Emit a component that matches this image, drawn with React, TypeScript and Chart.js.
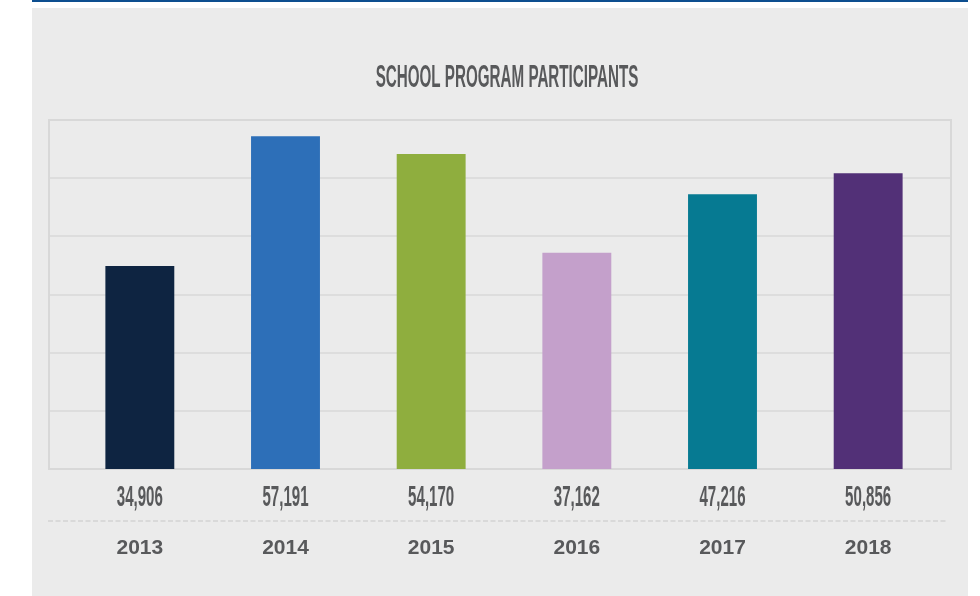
import React, { useEffect, useRef } from "react";
import { Chart, registerables } from "chart.js";

Chart.register(...registerables);

const years = ["2013", "2014", "2015", "2016", "2017", "2018"];
const participants = [34906, 57191, 54170, 37162, 47216, 50856];
const barColors = ["#0e2441", "#2d6fb8", "#8fae3e", "#c4a0cb", "#067a92", "#523077"];
const gridValues = [0, 10000, 20000, 30000, 40000, 50000, 60000];
const title = "SCHOOL PROGRAM PARTICIPANTS";

const fmt = (v: number) => v.toLocaleString("en-US");

export default function App() {
  const ref = useRef<HTMLCanvasElement | null>(null);

  useEffect(() => {
    document.body.style.margin = "0";
    const canvas = ref.current!;
    const decor = {
      id: "decor",
      beforeDraw(chart: any) {
        const ctx = chart.ctx;
        ctx.save();
        ctx.fillStyle = "#ffffff";
        ctx.fillRect(0, 0, chart.width, chart.height);
        ctx.fillStyle = "#0d4e8f";
        ctx.fillRect(32, 0, 936, 2);
        ctx.fillStyle = "#ebebeb";
        ctx.fillRect(32, 8, 936, chart.height - 8);
        // title
        ctx.fillStyle = "#58595b";
        ctx.font = "bold 31px 'Liberation Sans', Arial, sans-serif";
        ctx.textAlign = "center";
        ctx.textBaseline = "middle";
        ctx.translate(507, 78);
        ctx.scale(0.49, 1);
        ctx.fillText(title, 0, 0);
        ctx.restore();
      },
      beforeDatasetsDraw(chart: any) {
        const ctx = chart.ctx;
        const y = chart.scales.y;
        const left = 48, right = 951;
        ctx.save();
        ctx.strokeStyle = "#d8d8d8";
        ctx.lineWidth = 1.5;
        gridValues.forEach((v) => {
          const py = Math.round(y.getPixelForValue(v));
          ctx.beginPath();
          ctx.moveTo(left, py);
          ctx.lineTo(right, py);
          ctx.stroke();
        });
        // frame
        ctx.lineWidth = 2;
        const top = y.getPixelForValue(60000);
        const bottom = y.getPixelForValue(0);
        ctx.strokeRect(49, top, 902, bottom - top);
        ctx.restore();
      },
      afterDatasetsDraw(chart: any) {
        const ctx = chart.ctx;
        const x = chart.scales.x;
        ctx.save();
        // value labels
        ctx.fillStyle = "#58595b";
        ctx.font = "bold 29px 'Liberation Sans', Arial, sans-serif";
        ctx.textAlign = "center";
        ctx.textBaseline = "middle";
        participants.forEach((v, i) => {
          const px = x.getPixelForValue(i);
          ctx.save();
          ctx.translate(px, 498);
          ctx.scale(0.52, 1);
          ctx.fillText(fmt(v), 0, 0);
          ctx.restore();
        });
        // dashed separator
        ctx.strokeStyle = "#d9d9d9";
        ctx.lineWidth = 2;
        ctx.setLineDash([5, 2.5]);
        ctx.beginPath();
        ctx.moveTo(48, 521);
        ctx.lineTo(948, 521);
        ctx.stroke();
        ctx.restore();
      },
    };

    const chart = new Chart(canvas, {
      type: "bar",
      data: {
        labels: years,
        datasets: [
          {
            data: participants,
            backgroundColor: barColors,
            borderWidth: 0,
            barPercentage: 0.473,
            categoryPercentage: 1,
          },
        ],
      },
      options: {
        responsive: false,
        animation: false,
        devicePixelRatio: 1,
        layout: { padding: { top: 120, left: 67, right: 39, bottom: 17 } },
        plugins: {
          legend: { display: false },
          tooltip: { enabled: false },
          title: { display: false },
        },
        scales: {
          x: {
            grid: { display: false, drawTicks: false },
            border: { display: false },
            ticks: {
              color: "#58595b",
              font: { family: "'Liberation Sans', Arial, sans-serif", size: 21, weight: "bold" },
              padding: 67,
              maxRotation: 0,
            },
            afterFit: (s: any) => {
              s.height = 110;
            },
          },
          y: {
            display: false,
            min: 0,
            max: 60000,
          },
        },
      },
      plugins: [decor],
    });
    return () => chart.destroy();
  }, []);

  return <canvas ref={ref} width={980} height={596} style={{ display: "block" }} />;
}
